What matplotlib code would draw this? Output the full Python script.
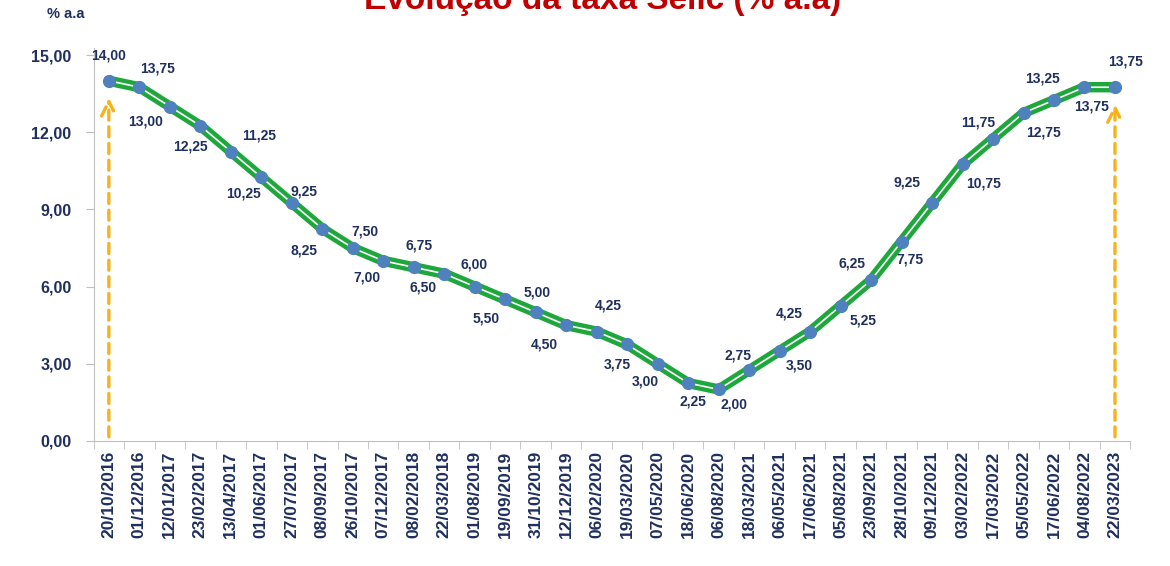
import numpy as np
import matplotlib.pyplot as plt

datas = ["20/10/2016", "01/12/2016", "12/01/2017", "23/02/2017", "13/04/2017", "01/06/2017",
         "27/07/2017", "08/09/2017", "26/10/2017", "07/12/2017", "08/02/2018", "22/03/2018",
         "01/08/2019", "19/09/2019", "31/10/2019", "12/12/2019", "06/02/2020", "19/03/2020",
         "07/05/2020", "18/06/2020", "06/08/2020", "18/03/2021", "06/05/2021", "17/06/2021",
         "05/08/2021", "23/09/2021", "28/10/2021", "09/12/2021", "03/02/2022", "17/03/2022",
         "05/05/2022", "17/06/2022", "04/08/2022", "22/03/2023"]
selic = [14.00, 13.75, 13.00, 12.25, 11.25, 10.25, 9.25, 8.25, 7.50, 7.00, 6.75, 6.50,
         6.00, 5.50, 5.00, 4.50, 4.25, 3.75, 3.00, 2.25, 2.00, 2.75, 3.50, 4.25,
         5.25, 6.25, 7.75, 9.25, 10.75, 11.75, 12.75, 13.25, 13.75, 13.75]
# label offsets (pixels) relative to each point
offs = [(0, 25), (18, 19), (-24, -15), (-10, -21), (28, 16), (-18, -16), (12, 11), (-18, -22),
        (12, 16), (-16, -17), (5, 22), (-21, -14), (-1, 22), (-19, -19), (1, 20), (-22, -19),
        (12, 26), (-10, -20), (-12, -18), (5, -18), (15, -15), (-11, 15), (20, -15), (-21, 18),
        (22, -15), (-19, 17), (8, -18), (-25, 20), (21, -19), (-15, 16), (20, -20), (-11, 22),
        (7, -19), (11, 26)]
yticks = [0, 3, 6, 9, 12, 15]

plt.rcParams['font.family'] = ['Liberation Sans', 'DejaVu Sans']
navy = '#1F2F5E'

fig = plt.figure(figsize=(11.7, 5.66), dpi=100)
ax = fig.add_axes([0.080, 0.221, 0.886, 0.694])
x = np.arange(len(selic))

ax.plot(x, selic, color='#1EA83C', lw=7.5, solid_joinstyle='round', solid_capstyle='round', zorder=2)
ax.plot(x, selic, color='white', lw=1.2, solid_joinstyle='round', zorder=3)
ax.plot(x, selic, 'o', color='#4F81BD', ms=8.5, zorder=4)

for xi, (v, (dx, dy)) in enumerate(zip(selic, offs)):
    ax.annotate(f"{v:.2f}".replace('.', ','), (xi, v), xytext=(dx, dy), textcoords='offset pixels',
                ha='center', va='center', fontsize=10, fontweight='bold', color=navy, zorder=5)

# dashed arrows
for xa, ytop in [(0, 13.45), (33, 13.2)]:
    ax.annotate('', xy=(xa, ytop), xytext=(xa, 0.05),
                arrowprops=dict(arrowstyle='->', color='#F7B21B', lw=2.4, ls=(0, (3, 2)),
                                mutation_scale=26), zorder=1)

ax.set_xlim(-0.5, len(selic) - 0.5)
ax.set_ylim(0, 15.27)
ax.set_yticks(yticks)
ax.set_yticklabels([f"{t:.2f}".replace('.', ',') for t in yticks], fontsize=11.5,
                   fontweight='bold', color=navy)
ax.set_xticks(x)
ax.set_xticklabels(datas, rotation=90, fontsize=12.5, fontweight='bold', color=navy)
ax.set_xticks(np.arange(-0.5, len(selic), 1), minor=True)
ax.tick_params(axis='x', which='major', length=0, pad=7)
ax.tick_params(axis='x', which='minor', length=6, color='#BFBFBF', direction='out')
ax.tick_params(axis='y', length=6, color='#BFBFBF', pad=10)
for s in ['top', 'right']:
    ax.spines[s].set_visible(False)
ax.spines['left'].set_color('#BFBFBF')
ax.spines['bottom'].set_color('#BFBFBF')

fig.text(0.056, 0.975, '% a.a', fontsize=10.5, fontweight='bold', color=navy, ha='center', va='center')
fig.text(0.515, 1.0, 'Evolução da taxa Selic (% a.a)', fontsize=24, fontweight='bold',
         color='#C00000', ha='center', va='center')

fig.savefig('out.png', dpi=100)
